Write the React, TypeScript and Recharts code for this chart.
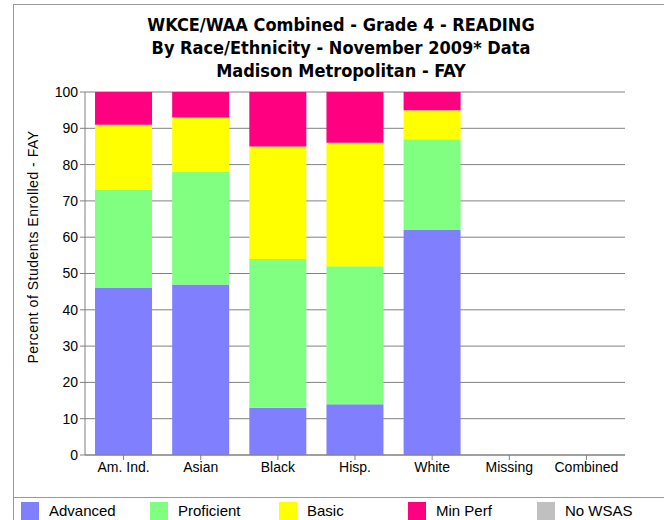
import { BarChart, Bar, XAxis, YAxis, CartesianGrid, Label } from "recharts";

const categories = ["Am. Ind.", "Asian", "Black", "Hisp.", "White", "Missing", "Combined"];
const advanced = [46, 47, 13, 14, 62, null, null];
const proficient = [27, 31, 41, 38, 25, null, null];
const basic = [18, 15, 31, 34, 8, null, null];
const minPerf = [9, 7, 15, 14, 5, null, null];
const noWsas = [0, 0, 0, 0, 0, null, null];
const yTicks = [0, 10, 20, 30, 40, 50, 60, 70, 80, 90, 100];

const titleLines = [
  "WKCE/WAA Combined - Grade 4 - READING",
  "By Race/Ethnicity - November 2009* Data",
  "Madison Metropolitan - FAY",
];

const series = [
  { key: "advanced", name: "Advanced", color: "#8080FF" },
  { key: "proficient", name: "Proficient", color: "#80FF80" },
  { key: "basic", name: "Basic", color: "#FFFF00" },
  { key: "minPerf", name: "Min Perf", color: "#FF0080" },
  { key: "noWsas", name: "No WSAS", color: "#C0C0C0" },
];

const data = categories.map((name, i) => ({
  name,
  advanced: advanced[i],
  proficient: proficient[i],
  basic: basic[i],
  minPerf: minPerf[i],
  noWsas: noWsas[i],
}));

const FONT = '"Liberation Sans", Arial, sans-serif';
const FRAME = "#9a9a9a";
const AXIS = "#808080";

export default function App() {
  return (
    <div
      style={{
        position: "fixed",
        left: 0,
        top: 0,
        width: 664,
        height: 520,
        background: "#fff",
        overflow: "hidden",
        fontFamily: FONT,
      }}
    >
      {/* frame */}
      <div style={{ position: "absolute", left: 13, top: 4, width: 700, height: 600, borderLeft: `1px solid ${FRAME}`, borderTop: `1px solid ${FRAME}` }} />
      <div style={{ position: "absolute", left: 13, top: 497, width: 700, borderTop: `1px solid ${FRAME}` }} />

      {/* title */}
      <div
        style={{
          position: "absolute",
          left: 13,
          width: 656,
          top: 13,
          textAlign: "center",
          fontFamily: '"Liberation Sans Narrow", "DejaVu Sans Condensed", sans-serif',
          fontWeight: "bold",
          fontSize: 18,
          lineHeight: "23px",
          color: "#000",
        }}
      >
        {titleLines.map((t) => (
          <div key={t}>{t}</div>
        ))}
      </div>

      <div style={{ position: "absolute", left: 0, top: 0 }}>
        <BarChart
          width={664}
          height={520}
          data={data}
          margin={{ top: 92, right: 39, bottom: 35, left: 0 }}
          barCategoryGap="13%"
        >
          <CartesianGrid vertical={false} stroke={AXIS} strokeWidth={1} />
          <XAxis
            dataKey="name"
            height={30}
            stroke={AXIS}
            tickSize={5}
            tick={{ fill: "#000", fontSize: 14, fontFamily: FONT }}
            interval={0}
          />
          <YAxis
            width={85}
            domain={[0, 100]}
            ticks={yTicks}
            stroke={AXIS}
            tickSize={5}
            tick={{ fill: "#000", fontSize: 14, fontFamily: FONT }}
          >
            <Label
              content={() => (
                <text
                  x={34}
                  y={247}
                  transform="rotate(-90 34 247)"
                  textAnchor="middle"
                  dominantBaseline="middle"
                  fontSize={14}
                  letterSpacing={0.5}
                  fontFamily={FONT}
                  fill="#000"
                >
                  Percent of Students Enrolled - FAY
                </text>
              )}
            />
          </YAxis>
          <YAxis yAxisId="right" orientation="right" width={0} domain={[0, 100]} tick={false} tickLine={false} stroke={AXIS} />
          {series.map((s) => (
            <Bar key={s.key} dataKey={s.key} name={s.name} stackId="a" fill={s.color} isAnimationActive={false} />
          ))}
        </BarChart>
      </div>

      {/* legend */}
      {series.map((s, i) => (
        <div key={s.key} style={{ position: "absolute", left: 21 + i * 129, top: 502, display: "flex", alignItems: "center" }}>
          <div style={{ width: 18, height: 18, background: s.color }} />
          <div style={{ marginLeft: 10, fontSize: 15, color: "#000", lineHeight: "18px" }}>{s.name}</div>
        </div>
      ))}
    </div>
  );
}
